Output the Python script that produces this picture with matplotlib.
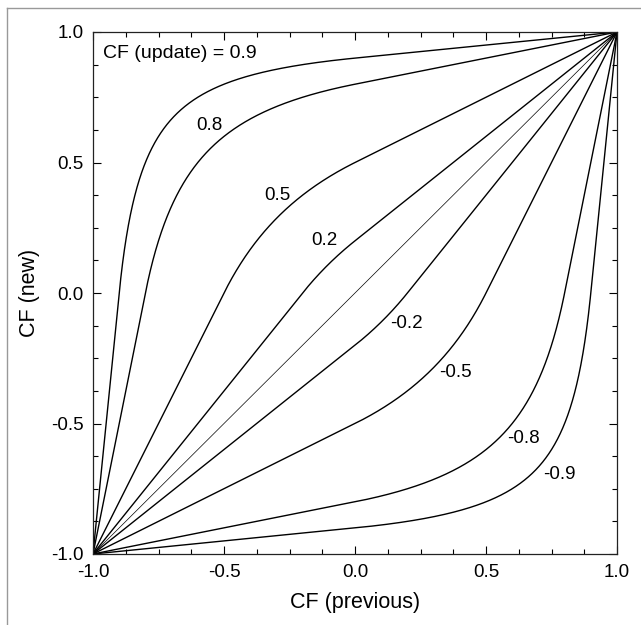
import numpy as np
import matplotlib
matplotlib.use("Agg")
import matplotlib.pyplot as plt
from matplotlib.ticker import MultipleLocator
from matplotlib.lines import Line2D

plt.rcParams['font.family'] = ['Liberation Sans', 'DejaVu Sans']

# Certainty factors of the incoming evidence, one curve each
cf_update = [0.9, 0.8, 0.5, 0.2, 0.0, -0.2, -0.5, -0.8, -0.9]
label_text = ["CF (update) = 0.9", "0.8", "0.5", "0.2", None,
              "-0.2", "-0.5", "-0.8", "-0.9"]
label_x = [-0.96, -0.557, -0.298, -0.115, None, 0.198, 0.382, 0.641, 0.779]
label_y = [0.916, 0.640, 0.372, 0.203, None, -0.115, -0.303, -0.556, -0.697]

tick_values = [-1.0, -0.5, 0.0, 0.5, 1.0]
tick_labels = ["-1.0", "-0.5", "0.0", "0.5", "1.0"]


def combine(prev, upd):
    """MYCIN-style combination of a previous CF with an update CF."""
    prev = np.asarray(prev, dtype=float)
    out = np.empty_like(prev)
    both_pos = (prev >= 0) & (upd >= 0)
    both_neg = (prev < 0) & (upd < 0)
    mixed = ~(both_pos | both_neg)
    out[both_pos] = prev[both_pos] + upd * (1 - prev[both_pos])
    out[both_neg] = prev[both_neg] + upd * (1 + prev[both_neg])
    denom = 1 - np.minimum(np.abs(prev[mixed]), abs(upd))
    safe = np.where(denom > 0, denom, 1)
    out[mixed] = np.where(denom > 0, (prev[mixed] + upd) / safe, 0.0)
    return out


W, H = 641, 625
fig = plt.figure(figsize=(W / 100, H / 100), dpi=100)
ax = fig.add_axes([93 / W, 1 - 554 / H, (617 - 93) / W, (554 - 32) / H])

x = np.linspace(-1, 1, 2001)
for cf in cf_update:
    lw = 0.5 if cf == 0 else 1.0
    ax.plot(x, combine(x, cf), color='black', lw=lw, solid_capstyle='butt')

for txt, tx, ty in zip(label_text, label_x, label_y):
    if txt is None:
        continue
    if txt.startswith("CF"):
        ax.text(tx, ty, txt, ha='left', va='center', fontsize=14, color='black')
    else:
        ax.text(tx, ty, txt, ha='center', va='center', fontsize=13.5, color='black')

ax.set_xlim(-1, 1)
ax.set_ylim(-1, 1)
ax.set_xticks(tick_values)
ax.set_xticklabels(tick_labels)
ax.set_yticks(tick_values)
ax.set_yticklabels(tick_labels)
ax.xaxis.set_minor_locator(MultipleLocator(0.125))
ax.yaxis.set_minor_locator(MultipleLocator(0.125))
ax.tick_params(which='both', direction='in', top=True, right=True,
               labelsize=13.5, colors='black', width=0.8)
ax.tick_params(which='major', length=6, pad=7)
ax.tick_params(which='minor', length=3.5)
for s in ax.spines.values():
    s.set_linewidth(0.9)
    s.set_color('#222222')

ax.set_xlabel("CF (previous)", fontsize=15.5, labelpad=8)
ax.set_ylabel("CF (new)", fontsize=15.5, labelpad=8)

# Thin gray page border along the top and left edges
fig.add_artist(Line2D([7 / W, 1], [1 - 8 / H, 1 - 8 / H], color='#999999', lw=1.0,
                      transform=fig.transFigure))
fig.add_artist(Line2D([7 / W, 7 / W], [0, 1 - 8 / H], color='#999999', lw=1.0,
                      transform=fig.transFigure))

fig.savefig("out.png", dpi=100)
